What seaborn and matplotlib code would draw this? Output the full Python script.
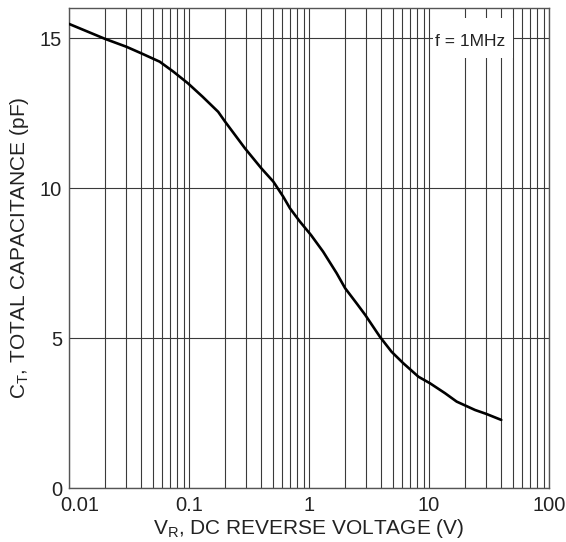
import matplotlib
matplotlib.use('Agg')
import matplotlib.pyplot as plt
import matplotlib.transforms as mtransforms
from matplotlib.patches import Rectangle
from matplotlib.ticker import LogLocator, NullFormatter, FixedLocator
import numpy as np
import pandas as pd
import seaborn as sns

# Curve
vr = [0.01, 0.02, 0.03, 0.04, 0.057, 0.074, 0.098, 0.13, 0.175, 0.2, 0.293, 0.40, 0.505,
      0.61, 0.695, 0.84, 1.04, 1.31, 1.70, 2.0, 2.51, 2.94, 3.9, 4.88, 6.1, 8.16, 10.2,
      13.6, 17.0, 24.2, 30.0, 40.0]
ct = [15.47, 14.97, 14.71, 14.49, 14.21, 13.88, 13.49, 13.04, 12.54, 12.21, 11.32, 10.66, 10.21,
      9.71, 9.32, 8.88, 8.43, 7.88, 7.16, 6.66, 6.14, 5.77, 5.04, 4.54, 4.16, 3.71, 3.49,
      3.16, 2.88, 2.6, 2.47, 2.27]
x_ticks = [0.01, 0.1, 1, 10, 100]
x_tick_labels = ['0.01', '0.1', '1', '10', '100']
y_ticks = [0, 5, 10, 15]

df = pd.DataFrame({'VR': vr, 'CT': ct})

sns.set_style('white')
plt.rcParams['font.family'] = ['Liberation Sans', 'DejaVu Sans']
plt.rcParams['mathtext.default'] = 'regular'

fig = plt.figure(figsize=(5.66, 5.42), dpi=100)
ax = fig.add_axes([69 / 566, 54 / 542, 480 / 566, 480 / 542])

sns.lineplot(data=df, x='VR', y='CT', color='black', linewidth=1.9, ax=ax, zorder=3)

ax.set_xscale('log')
ax.set_xlim(0.01, 100)
ax.set_ylim(0, 16)
ax.xaxis.set_major_locator(FixedLocator(x_ticks))
ax.set_xticklabels(x_tick_labels)
ax.xaxis.set_minor_locator(LogLocator(base=10, subs=np.arange(2, 10)))
ax.xaxis.set_minor_formatter(NullFormatter())
ax.set_yticks(y_ticks)

ax.grid(True, which='both', axis='x', color='#3a3a3a', linewidth=0.8)
ax.grid(True, which='major', axis='y', color='#3a3a3a', linewidth=0.8)
ax.set_axisbelow(True)
for s in ax.spines.values():
    s.set_color('#555555')
    s.set_linewidth(1.0)

ax.tick_params(axis='both', which='both', length=0, labelsize=14.5, colors='#222222')
ax.tick_params(axis='x', pad=6)
ax.tick_params(axis='y', pad=5)

# nudge the first x label inward like the original
lbl = ax.get_xticklabels()[0]
lbl.set_transform(lbl.get_transform() + mtransforms.ScaledTranslation(11 / 100, 0, fig.dpi_scale_trans))

ax.set_xlabel('$V_R$, DC REVERSE VOLTAGE (V)', fontsize=15, color='#222222', labelpad=1)
ax.set_ylabel('$C_T$, TOTAL CAPACITANCE (pF)', fontsize=15, color='#222222', labelpad=6)

# white box behind the frequency note
ax.add_patch(Rectangle((364 / 480, 430 / 480), 80 / 480, 40 / 480, transform=ax.transAxes,
                       facecolor='white', edgecolor='none', zorder=4))
ax.text(401 / 480, 447 / 480, 'f = 1MHz', transform=ax.transAxes, fontsize=12.5,
        ha='center', va='center', color='#222222', zorder=5)

fig.savefig('out.png', dpi=100)
